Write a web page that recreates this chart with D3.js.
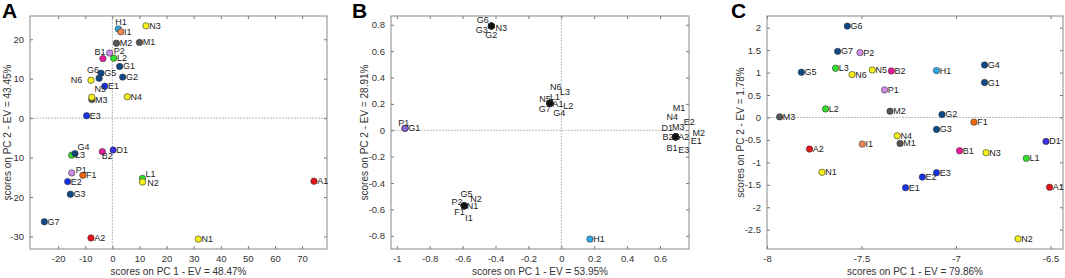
<!DOCTYPE html>
<html>
<head>
<meta charset="utf-8">
<script src="https://cdn.jsdelivr.net/npm/d3@7"></script>
<style>
  html, body { margin: 0; padding: 0; background: #fff; }
  svg { display: block; font-family: "Liberation Sans", Arial, sans-serif; }
</style>
</head>
<body>
<svg id="chart" width="1065" height="278"></svg>
<script>
// ---- données ----

// Panneau A
const namesA = ["H1","I1","N3","M2","M1","B1","P2","L2","G1","G5","G6","G2","N6","E1","M3","N5","N4","E3",
  "L3","G4","B2","D1","P1","F1","E2","L1","N2","G3","G7","A2","A1","N1"];
const pc1A = [2.2,3.1,12.4,1.5,10.0,-3.5,-1.0,0.5,2.7,-4.2,-4.9,3.8,-7.9,-2.8,-7.6,-7.6,5.5,-9.5,
  -15.0,-13.8,-3.7,0.3,-15.0,-10.9,-16.5,11.1,11.1,-15.5,-25.1,-7.9,74.4,31.7];
const pc2A = [22.6,21.9,23.4,19.0,19.2,15.1,16.5,15.2,13.1,11.4,10.1,10.4,9.6,8.1,4.7,5.3,5.4,0.6,
  -9.4,-9.0,-8.5,-8.1,-13.9,-14.5,-16.1,-15.3,-16.2,-19.3,-26.3,-30.4,-16.0,-30.7];
const ticksXA = [-20,-10,0,10,20,30,40,50,60,70];
const ticksYA = [-30,-20,-10,0,10,20];

// Panneau B
const namesB = ["G6","N3","G3","G2","G1","P1","G5","N2","P2","N1","F1","I1",
  "N6","L3","N5","L1","A1","L2","G7","G4",
  "M1","N4","E2","D1","M3","M2","B2","A2","E1","B1","E3","H1"];
const pc1B = [-0.425,-0.425,-0.425,-0.425,-0.95,-0.95,-0.59,-0.59,-0.59,-0.59,-0.59,-0.59,
  -0.069,-0.069,-0.069,-0.069,-0.069,-0.069,-0.069,-0.069,
  0.695,0.695,0.695,0.695,0.695,0.695,0.695,0.695,0.695,0.695,0.695,0.174];
const pc2B = [0.79,0.79,0.79,0.79,0.015,0.015,-0.573,-0.573,-0.573,-0.573,-0.573,-0.573,
  0.205,0.205,0.205,0.205,0.205,0.205,0.205,0.205,
  -0.05,-0.05,-0.05,-0.05,-0.05,-0.05,-0.05,-0.05,-0.05,-0.05,-0.05,-0.825];
const ticksXB = [-1,-0.8,-0.6,-0.4,-0.2,0,0.2,0.4,0.6];
const ticksYB = [-0.8,-0.6,-0.4,-0.2,0,0.2,0.4,0.6,0.8];

// Panneau C
const namesC = ["G6","G7","P2","G5","L3","N6","N5","B2","H1","G4","G1","P1","L2","M2","G2","M3",
  "F1","G3","N4","M1","D1","B1","N3","L1","E3","E2","E1","A1","N2","A2","I1","N1"];
const pc1C = [-7.575,-7.626,-7.508,-7.818,-7.637,-7.55,-7.443,-7.342,-7.103,-6.849,-6.849,-7.378,-7.69,-7.349,-7.074,-7.933,
  -6.905,-7.103,-7.311,-7.296,-6.524,-6.981,-6.841,-6.628,-7.103,-7.178,-7.267,-6.505,-6.672,-7.775,-7.496,-7.709];
const pc2C = [2.035,1.473,1.444,1.007,1.096,0.955,1.058,1.036,1.044,1.169,0.778,0.613,0.19,0.14,0.067,0.013,
  -0.104,-0.267,-0.409,-0.578,-0.533,-0.742,-0.786,-0.911,-1.231,-1.327,-1.564,-1.556,-2.704,-0.704,-0.593,-1.222];
const ticksXC = [-8,-7.5,-7,-6.5];
const ticksYC = [-2.5,-2,-1.5,-1,-0.5,0,0.5,1,1.5,2];

// ---- styles ----
const groupColor = {
  A: "#e8141b", B: "#e8199a", D: "#3a2fe2", E: "#1432e8", F: "#f0680f", G: "#0d4a86",
  H: "#2ba8ea", I: "#ee8a4e", L: "#30e02a", M: "#555555", N: "#f6f01a", P: "#cf8ce8"
};
const colorOf = name => groupColor[name[0]];

// décalages manuels des étiquettes (centre du texte, en px)
const offsetsA = {
  H1: [2.7,-7.5], B1: [-3,-6.5], P2: [9.5,-2.5], G6: [-6,-8], N6: [-14.5,0],
  N5: [8.5,-8], G4: [8.5,-7], B2: [5,4.5], P1: [9.5,-2.7], L1: [8,-4.5], N2: [10.5,0.8]
};
const offsetsB = {
  G6: [-8.6,-5.7], N3: [10,1.6], G3: [-9.6,4.3], G2: [0,9],
  P1: [-1.3,-5.5],
  G5: [2.3,-12], N2: [11.7,-6.4], P2: [-7.3,-3.4], N1: [8.3,0.3], F1: [-4.7,6.6], I1: [4.7,12.6],
  N6: [5.7,-16.3], L3: [15,-11.3], N5: [-5,-4.7], L1: [5,-6.3], A1: [8,0.7], L2: [18.3,3], G7: [-5.3,6], G4: [9.3,9.7],
  M1: [3.3,-28.4], N4: [-3.4,-19.4], E2: [13.6,-15], D1: [-8.4,-9], M3: [2.6,-10], M2: [23,-3.4],
  B2: [-7.7,0.3], A2: [8,0.3], E1: [20.6,4.6], B1: [-3.7,11], E3: [8,13.3]
};
const fillB = name => name === "H1" ? colorOf("H1") : (name === "G1" ? "#0d4a86" : (name === "P1" ? "#8a66d6" : "#111"));

const panels = [
  { letter: "A", letterX: 2, left: 30, right: 327, names: namesA, xs: pc1A, ys: pc2A,
    domX: [-30.4, 79.2], domY: [-33.2, 25.9], ticksX: ticksXA, ticksY: ticksYA,
    labelX: "scores on PC 1 - EV = 48.47%", labelY: "scores on PC 2 - EV = 43.45%", yLabelPos: 7,
    zeroX: true, offsets: offsetsA, fill: colorOf },
  { letter: "B", letterX: 352, left: 391, right: 689, names: namesB, xs: pc1B, ys: pc2B,
    domX: [-1.035, 0.776], domY: [-0.9, 0.866], ticksX: ticksXB, ticksY: ticksYB,
    labelX: "scores on PC 1 - EV = 53.95%", labelY: "scores on PC 2 - EV = 28.91%", yLabelPos: 364.5,
    zeroX: true, offsets: offsetsB, fill: fillB },
  { letter: "C", letterX: 731, left: 767, right: 1063, names: namesC, xs: pc1C, ys: pc2C,
    domX: [-8, -6.434], domY: [-2.93, 2.26], ticksX: ticksXC, ticksY: ticksYC,
    labelX: "scores on PC 1 - EV = 79.86%", labelY: "scores on PC 2 - EV = 1.78%", yLabelPos: 740,
    zeroX: false, offsets: {}, fill: colorOf }
];

const plotTop = 16, plotBottom = 249;
const svg = d3.select("#chart");
const fmt = d => d === 0 ? "0" : String(+d.toFixed(2));

panels.forEach(p => {
  const g = svg.append("g");
  const x = d3.scaleLinear().domain(p.domX).range([p.left, p.right]);
  const y = d3.scaleLinear().domain(p.domY).range([plotBottom, plotTop]);

  // lettre du panneau
  g.append("text")
    .attr("x", p.letterX).attr("y", 18)
    .attr("font-size", 21).attr("font-weight", "bold")
    .text(p.letter);

  // lignes du zéro
  if (p.zeroX) {
    g.append("line")
      .attr("x1", x(0)).attr("x2", x(0)).attr("y1", plotTop).attr("y2", plotBottom)
      .attr("stroke", "#aaa").attr("stroke-width", 0.8).attr("stroke-dasharray", "2,1");
  }
  g.append("line")
    .attr("x1", p.left).attr("x2", p.right).attr("y1", y(0)).attr("y2", y(0))
    .attr("stroke", "#aaa").attr("stroke-width", 0.8).attr("stroke-dasharray", "2,1");

  // axes (ticks vers l'intérieur, façon MATLAB)
  const styleAxis = sel => {
    sel.select(".domain").remove();
    sel.selectAll(".tick line").attr("stroke", "#777");
    sel.selectAll("text").attr("fill", "#333").attr("font-size", 9.5)
      .attr("font-family", "'Liberation Sans', Arial, sans-serif");
  };
  g.append("g").attr("transform", `translate(0,${plotBottom})`)
    .call(d3.axisBottom(x).tickValues(p.ticksX).tickSize(-3).tickPadding(6).tickFormat(fmt))
    .call(styleAxis);
  g.append("g").attr("transform", `translate(0,${plotTop})`)
    .call(d3.axisTop(x).tickValues(p.ticksX).tickSize(-3).tickFormat(""))
    .call(styleAxis);
  g.append("g").attr("transform", `translate(${p.left},0)`)
    .call(d3.axisLeft(y).tickValues(p.ticksY).tickSize(-3).tickPadding(6).tickFormat(fmt))
    .call(styleAxis);
  g.append("g").attr("transform", `translate(${p.right},0)`)
    .call(d3.axisRight(y).tickValues(p.ticksY).tickSize(-3).tickFormat(""))
    .call(styleAxis);

  // cadre
  g.append("rect")
    .attr("x", p.left).attr("y", plotTop)
    .attr("width", p.right - p.left).attr("height", plotBottom - plotTop)
    .attr("fill", "none").attr("stroke", "#888").attr("stroke-width", 1);

  // titres des axes
  g.append("text")
    .attr("x", (p.left + p.right) / 2).attr("y", 275)
    .attr("text-anchor", "middle").attr("font-size", 10).attr("fill", "#333")
    .text(p.labelX);
  g.append("text")
    .attr("transform", `translate(${p.yLabelPos},${(plotTop + plotBottom) / 2}) rotate(-90)`)
    .attr("text-anchor", "middle").attr("dominant-baseline", "central")
    .attr("font-size", 10).attr("fill", "#333")
    .text(p.labelY);

  // points
  const pts = p.names.map((n, i) => ({ name: n, px: p.xs[i], py: p.ys[i] }));
  g.selectAll("circle.pt").data(pts).join("circle")
    .attr("class", "pt")
    .attr("cx", d => x(d.px)).attr("cy", d => y(d.py))
    .attr("r", 3.2)
    .attr("fill", d => p.fill(d.name))
    .attr("stroke", "#333").attr("stroke-width", 0.6);

  // étiquettes
  g.selectAll("text.lbl").data(pts).join("text")
    .attr("class", "lbl")
    .attr("x", d => x(d.px) + (p.offsets[d.name] ? p.offsets[d.name][0] : 3.2))
    .attr("y", d => y(d.py) + (p.offsets[d.name] ? p.offsets[d.name][1] : 0))
    .attr("text-anchor", d => p.offsets[d.name] ? "middle" : "start")
    .attr("dominant-baseline", "central")
    .attr("font-size", 9).attr("fill", "#222")
    .text(d => d.name);
});
</script>
</body>
</html>
